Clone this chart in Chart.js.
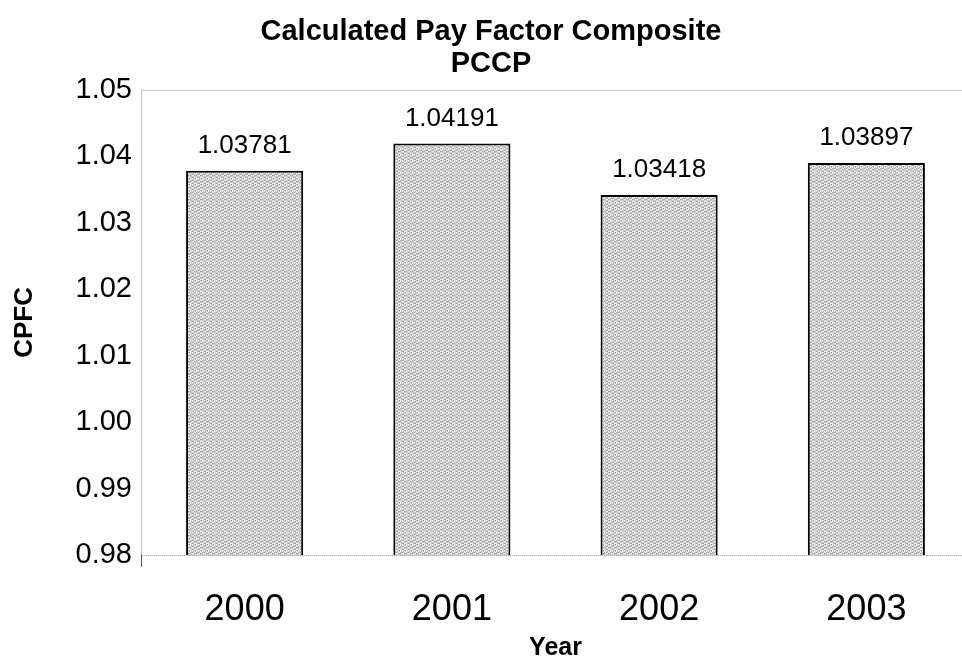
<!DOCTYPE html>
<html>
<head>
<meta charset="utf-8">
<script src="https://cdn.jsdelivr.net/npm/chart.js@4"></script>
<style>
  html, body { margin: 0; padding: 0; background: #fff; overflow: hidden; }
  #clip { width: 962px; height: 664px; overflow: hidden; position: relative; }
  #wrap { width: 975px; height: 664px; position: absolute; left: 0; top: 0; }
</style>
</head>
<body>
<div id="clip"><div id="wrap"><canvas id="cpfcChart"></canvas></div></div>
<script>
var years = ["2000", "2001", "2002", "2003"];
var cpfcValues = [1.03781, 1.04191, 1.03418, 1.03897];
var yTicks = [0.98, 0.99, 1.00, 1.01, 1.02, 1.03, 1.04, 1.05];

var FONT = "'Liberation Sans', Arial, sans-serif";

// speckled gray fill for the bars
function makeTexture() {
  var c = document.createElement("canvas");
  c.width = 6; c.height = 6;
  var g = c.getContext("2d");
  for (var i = 0; i < 6; i++) {
    for (var j = 0; j < 6; j++) {
      var v = 204 + (((i * 37 + j * 61 + i * j * 13) % 7) - 3) * 16;
      g.fillStyle = "rgb(" + v + "," + v + "," + v + ")";
      g.fillRect(i, j, 1, 1);
    }
  }
  return g.createPattern(c, "repeat");
}

var plotFrame = {
  id: "plotFrame",
  beforeDatasetsDraw: function (chart) {
    var a = chart.chartArea, ctx = chart.ctx;
    ctx.save();
    ctx.strokeStyle = "#8a8a8a";
    ctx.lineWidth = 1;
    ctx.setLineDash([1, 1]);
    ctx.strokeRect(a.left + 0.5, a.top + 0.5, a.right - a.left, a.bottom - a.top);
    ctx.setLineDash([]);
    ctx.strokeStyle = "#555";
    ctx.beginPath();
    ctx.moveTo(a.left + 0.5, a.bottom);
    ctx.lineTo(a.left + 0.5, a.bottom + 12);
    ctx.stroke();
    ctx.restore();
  }
};

var valueLabels = {
  id: "valueLabels",
  afterDatasetsDraw: function (chart) {
    var ctx = chart.ctx;
    var meta = chart.getDatasetMeta(0);
    ctx.save();
    ctx.fillStyle = "#000";
    ctx.font = "26px " + FONT;
    ctx.textAlign = "center";
    ctx.textBaseline = "alphabetic";
    meta.data.forEach(function (bar, i) {
      ctx.fillText(cpfcValues[i].toFixed(5), bar.x, bar.y - 18);
    });
    ctx.restore();
  }
};

var ctx = document.getElementById("cpfcChart").getContext("2d");

new Chart(ctx, {
  type: "bar",
  data: {
    labels: years,
    datasets: [{
      data: cpfcValues,
      backgroundColor: makeTexture(),
      borderColor: "#000",
      borderWidth: 2,
      borderSkipped: false,
      barPercentage: 0.565,
      categoryPercentage: 1
    }]
  },
  options: {
    responsive: true,
    maintainAspectRatio: false,
    animation: false,
    layout: { padding: { left: 12, right: 5, top: 0, bottom: 0 } },
    plugins: {
      legend: { display: false },
      tooltip: { enabled: false },
      title: {
        display: true,
        text: ["Calculated Pay Factor Composite", "PCCP"],
        color: "#000",
        font: { family: FONT, size: 29, weight: "bold", lineHeight: 1.1 },
        padding: { top: 16, bottom: 10 }
      }
    },
    scales: {
      x: {
        grid: { display: false, drawTicks: false },
        border: { display: false },
        ticks: {
          color: "#000",
          padding: 33,
          font: { family: FONT, size: 36 }
        },
        title: {
          display: true,
          text: "Year",
          color: "#000",
          padding: { top: 3, bottom: 3 },
          font: { family: FONT, size: 25, weight: "bold", lineHeight: 1 }
        },
        afterFit: function (scale) { scale.height = 109; }
      },
      y: {
        min: 0.98,
        max: 1.05,
        grid: { display: false, drawTicks: false },
        border: { display: false },
        afterBuildTicks: function (scale) {
          scale.ticks = yTicks.map(function (v) { return { value: v }; });
        },
        ticks: {
          color: "#000",
          padding: 9,
          font: { family: FONT, size: 29 },
          callback: function (v) { return Number(v).toFixed(2); }
        },
        title: {
          display: true,
          text: "CPFC",
          color: "#000",
          padding: 0,
          font: { family: FONT, size: 26, weight: "bold", lineHeight: 1 }
        },
        afterFit: function (scale) { scale.width = 129; }
      }
    }
  },
  plugins: [plotFrame, valueLabels]
});
</script>
</body>
</html>
